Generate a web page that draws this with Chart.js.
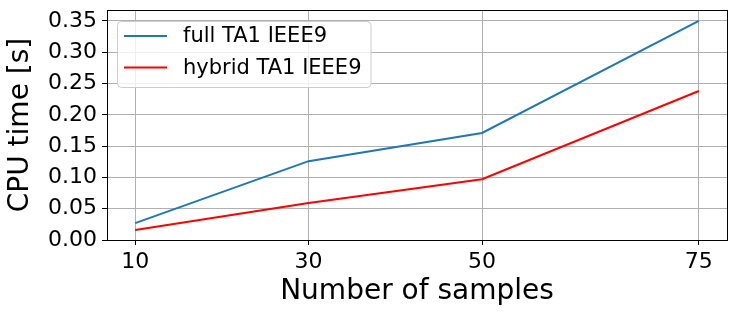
<!DOCTYPE html>
<html>
<head>
<meta charset="utf-8">
<script src="https://cdn.jsdelivr.net/npm/chart.js@4.4.1/dist/chart.umd.min.js"></script>
<style>
  html, body { margin: 0; padding: 0; background: #fff; }
  #wrap { width: 735px; height: 318px; }
</style>
</head>
<body>
<div id="wrap"><canvas id="cpuChart"></canvas></div>
<script>
var samples = [10, 30, 50, 75];
var fullTimes = [0.027, 0.126, 0.171, 0.350];
var hybridTimes = [0.016, 0.059, 0.097, 0.238];
var xTicks = [10, 30, 50, 75];
var yTicks = [0, 0.05, 0.10, 0.15, 0.20, 0.25, 0.30, 0.35];

var font = 'DejaVu Sans';

function toPoints(xs, ys) {
    var pts = [];
    for (var i = 0; i < xs.length; i++) {
        pts.push({x: xs[i], y: ys[i]});
    }
    return pts;
}

// matplotlib-style legend box in the upper left, plus the frame
const frameAndLegend = {
    id: 'frameAndLegend',
    afterDatasetsDraw(chart) {
        const ctx = chart.ctx;
        const area = chart.chartArea;
        ctx.save();
        ctx.font = '21px "' + font + '"';
        var maxW = 0;
        chart.data.datasets.forEach(function (ds) {
            maxW = Math.max(maxW, ctx.measureText(ds.label).width);
        });
        var bx = area.left + 10, by = area.top + 11;
        var bw = 66 + maxW + 9, bh = 66;
        ctx.beginPath();
        ctx.roundRect(bx + 0.5, by + 0.5, bw, bh, 4);
        ctx.fillStyle = 'rgba(255,255,255,0.8)';
        ctx.fill();
        ctx.strokeStyle = '#cccccc';
        ctx.lineWidth = 1;
        ctx.stroke();
        chart.data.datasets.forEach(function (ds, i) {
            var cy = by + 15 + i * 31.6;
            ctx.beginPath();
            ctx.moveTo(bx + 7, cy);
            ctx.lineTo(bx + 50, cy);
            ctx.strokeStyle = ds.borderColor;
            ctx.lineWidth = 2;
            ctx.stroke();
            ctx.fillStyle = '#000';
            ctx.textBaseline = 'middle';
            ctx.textAlign = 'left';
            ctx.fillText(ds.label, bx + 66, cy + 1);
        });
        ctx.strokeStyle = '#000';
        ctx.lineWidth = 1;
        ctx.strokeRect(Math.round(area.left) + 0.5, Math.round(area.top) + 0.5,
            Math.round(area.right - area.left), Math.round(area.bottom - area.top));
        ctx.restore();
    }
};

const cpuConfig = {
    type: 'line',
    data: {
        datasets: [
            {
                label: 'full TA1 IEEE9',
                borderColor: '#1f77b4',
                backgroundColor: '#1f77b4',
                data: toPoints(samples, fullTimes),
            },
            {
                label: 'hybrid TA1 IEEE9',
                borderColor: '#ff0000',
                backgroundColor: '#ff0000',
                data: toPoints(samples, hybridTimes),
            }
        ]
    },
    options: {
        responsive: true,
        maintainAspectRatio: false,
        animation: false,
        layout: { padding: { left: 0, top: 10, right: 8, bottom: 0 } },
        elements: {
            line: { borderWidth: 2, tension: 0 },
            point: { radius: 0 }
        },
        plugins: {
            legend: { display: false },
            tooltip: { enabled: false }
        },
        scales: {
            x: {
                type: 'linear',
                min: 6.75,
                max: 78.25,
                afterBuildTicks: function (scale) {
                    scale.ticks = xTicks.map(function (v) { return {value: v}; });
                },
                afterFit: function (scale) {
                    scale.height = 78;
                    scale.paddingLeft = 0;
                    scale.paddingRight = 0;
                },
                grid: { color: '#b0b0b0', lineWidth: 1, tickColor: '#000', tickLength: 5, tickWidth: 1 },
                border: { display: false },
                ticks: {
                    color: '#000',
                    font: { family: font, size: 22 },
                    padding: 4,
                    maxRotation: 0,
                    autoSkip: false
                },
                title: {
                    display: true,
                    text: 'Number of samples',
                    color: '#000',
                    font: { family: font, size: 28 },
                    padding: { top: 0, bottom: 9 }
                }
            },
            y: {
                min: 0,
                max: 0.3675,
                afterBuildTicks: function (scale) {
                    scale.ticks = yTicks.map(function (v) { return {value: v}; });
                },
                afterFit: function (scale) {
                    scale.width = 107;
                    scale.paddingTop = 0;
                    scale.paddingBottom = 0;
                },
                grid: { color: '#b0b0b0', lineWidth: 1, tickColor: '#000', tickLength: 5, tickWidth: 1 },
                border: { display: false },
                ticks: {
                    color: '#000',
                    font: { family: font, size: 22 },
                    padding: 5,
                    autoSkip: false,
                    callback: function (v) { return Number(v).toFixed(2); }
                },
                title: {
                    display: true,
                    text: 'CPU time [s]',
                    color: '#000',
                    font: { family: font, size: 28 },
                    padding: { top: 4, bottom: 0 }
                }
            }
        }
    },
    plugins: [frameAndLegend]
};

const cpuChart = new Chart(document.getElementById('cpuChart'), cpuConfig);
</script>
</body>
</html>
